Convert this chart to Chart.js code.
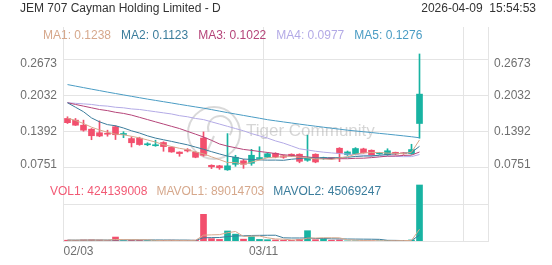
<!DOCTYPE html>
<html><head><meta charset="utf-8">
<script src="https://cdn.jsdelivr.net/npm/chart.js@4.4.1/dist/chart.umd.min.js"></script>
<style>html,body{margin:0;padding:0;background:#fff;}canvas{display:block;}</style>
</head><body>
<canvas id="c" width="552" height="265"></canvas>
<script>
// ---------- data ----------
const title = 'JEM 707 Cayman Holding Limited - D';
const stamp = '2026-04-09  15:54:53';
const xTickIndex = [0, 25, 50];
const xTickLabels = ['02/03', '03/11', ''];
const priceTickLabels = ['0.2673', '0.2032', '0.1392', '0.0751'];
const volTickLabels = ['272655017'];
const volUnitLabel = 'Mshares';

const openP  = [.1620,.1590,.1500,.1429,.1366,.1357,.1473,.1334,.1262,.1268,.1151,.1134,.1191,.1107,.1021,.1062,.1017,.1271,.0785,.0776,.0704,.0803,.0865,.0821,.0905,.0928,.0999,.0955,.0982,.0982,.0874,.0982,.0905,.0910,.1089,.0973,.0982,.1077,.1053,.0990,.0973,.1017,.1000,.0994,.1530];
const highP  = [.1650,.1620,.1590,.1441,.1577,.1411,.1491,.1384,.1294,.1286,.1187,.1232,.1205,.1116,.1026,.1083,.1026,.1380,.0794,.0785,.1350,.0964,.0892,.1070,.1116,.1010,.1010,.0970,.0990,.0990,.1321,.0990,.0930,.0920,.1100,.1040,.1100,.1090,.1060,.1010,.1080,.1020,.1010,.1160,.2770];
const lowP   = [.1530,.1495,.1393,.1241,.1294,.1303,.1244,.1277,.1112,.1142,.1134,.1124,.1035,.1017,.0946,.1023,.0919,.0946,.0726,.0713,.0695,.0767,.0731,.0785,.0892,.0920,.0920,.0910,.0940,.0830,.0856,.0830,.0890,.0890,.0850,.0960,.0970,.1000,.0950,.0980,.0960,.0970,.0980,.0980,.1268];
const closeP = [.1545,.1500,.1411,.1312,.1307,.1339,.1330,.1352,.1187,.1155,.1160,.1142,.1119,.1023,.0994,.1041,.0928,.0964,.0758,.0740,.0776,.0928,.0803,.0964,.0915,.0991,.0937,.0928,.0951,.0856,.0923,.0844,.0910,.0905,.0999,.1023,.1084,.1008,.0955,.0999,.1044,.0985,.0990,.1066,.2054];
const volume = [6e6,5e6,8e6,9e6,7e6,4e6,30e6,3e6,6e6,5e6,3e6,4e6,5e6,6e6,4e6,3e6,6e6,202e6,18e6,12e6,76e6,52e6,14e6,33e6,12e6,10e6,8e6,6e6,5e6,12e6,78e6,10e6,17e6,6e6,8e6,1.2e6,1.5e6,1.0e6,0.9e6,1.0e6,4.5e6,3.5e6,4.9e6,8.0e6,424139008];

const ma1 = [.1625,.1585,.1530,.1465,.1415,.1374,.1340,.1328,.1303,.1273,.1237,.1199,.1153,.1120,.1088,.1064,.1021,.0990,.0936,.0886,.0834,.0834,.0802,.0843,.0878,.0920,.0921,.0947,.0944,.0933,.0919,.0900,.0897,.0888,.0917,.0936,.0984,.1004,.1014,.1014,.1002,.0998,.0995,.1017,.1238];
const ma2 = [.1900,.1820,.1740,.1630,.1560,.1510,.1490,.1450,.1400,.1360,.1310,.1270,.1240,.1211,.1180,.1150,.1110,.1071,.1028,.0987,.0949,.0927,.0896,.0890,.0882,.0877,.0878,.0874,.0893,.0905,.0920,.0911,.0922,.0916,.0924,.0928,.0942,.0950,.0951,.0965,.0977,.0991,.0999,.1015,.1123];
const ma3 = [.1900,.1870,.1840,.1810,.1780,.1760,.1730,.1710,.1680,.1640,.1600,.1560,.1520,.1480,.1440,.1390,.1340,.1290,.1230,.1165,.1127,.1098,.1068,.1051,.1031,.1014,.0994,.0973,.0961,.0946,.0934,.0919,.0909,.0903,.0903,.0902,.0910,.0912,.0922,.0935,.0948,.0951,.0961,.0966,.1022];
const ma4 = [.1900,.1890,.1880,.1870,.1850,.1840,.1820,.1810,.1790,.1780,.1760,.1740,.1720,.1700,.1670,.1650,.1620,.1600,.1560,.1520,.1480,.1440,.1400,.1350,.1310,.1270,.1220,.1180,.1130,.1079,.1058,.1036,.1019,.1006,.0995,.0985,.0977,.0965,.0957,.0952,.0948,.0943,.0939,.0940,.0977];
const ma5 = [.2224,.2197,.2170,.2143,.2117,.2090,.2065,.2040,.2015,.1990,.1965,.1942,.1919,.1896,.1872,.1849,.1826,.1804,.1778,.1751,.1724,.1699,.1674,.1649,.1624,.1598,.1578,.1558,.1539,.1519,.1500,.1482,.1464,.1446,.1429,.1411,.1397,.1383,.1369,.1354,.1340,.1325,.1310,.1294,.1276];
const mavol1 = [6.5e6,6.5e6,6.8e6,7e6,7e6,6.6e6,11.6e6,10.6e6,10e6,9.6e6,9.4e6,4.2e6,4.6e6,4.6e6,4.4e6,4.4e6,4.8e6,44.2e6,46.6e6,48.2e6,62.8e6,72e6,34.4e6,37.4e6,37.4e6,24.2e6,15.4e6,13.8e6,8.2e6,8.2e6,21.8e6,22.2e6,24.4e6,24.6e6,23.8e6,8.4e6,6.7e6,3.5e6,2.5e6,1.1e6,1.8e6,2.2e6,3.0e6,4.4e6,89014703];
const mavol2 = [6.5e6,6.5e6,6.6e6,6.8e6,7e6,7e6,8e6,8e6,8.2e6,8.3e6,8.0e6,7.9e6,7.6e6,7.3e6,7.0e6,6.9e6,4.5e6,24.4e6,25.6e6,26.3e6,33.6e6,38.4e6,39.3e6,42e6,42.8e6,43.5e6,43.7e6,24.1e6,22.8e6,22.8e6,23e6,18.8e6,19.1e6,16.4e6,16e6,15.1e6,14.5e6,14e6,13.6e6,12.5e6,5.1e6,4.5e6,3.3e6,3.5e6,45069247];

// ---------- style ----------
const UP = '#18b3a2', DOWN = '#f24f6d';
const MA_COLORS = ['#d6a88c', '#3b7d9c', '#b54479', '#b3aae6', '#4a9cc4'];
const VOL_COLORS = ['#f25a75', '#d6a88c', '#3b7d9c'];
const GRID = '#e4e4e4';
const LABEL = '#6f6f6f';
const FONT = "'Liberation Sans', Arial, sans-serif";
const PLOT_H = 214;
const PRICE_MIN = -0.05647, PRICE_MAX = 0.32507;
const VOL_MAX = 1620.78e6;
const pricePx = PLOT_H / (PRICE_MAX - PRICE_MIN);
const volPx = PLOT_H / VOL_MAX;
const priceLabelNudge = [4.6, 0, 0, -2.9]; // px (down positive) for label placement
const unitLabelLift = 5.3;

const N = closeP.length;
const idx = Array.from({length: N}, (_, i) => i);
const candleColor = idx.map(i => closeP[i] >= openP[i] ? UP : DOWN);
const bodyData = idx.map(i => ({x: i, y: [Math.min(openP[i], closeP[i]), Math.max(openP[i], closeP[i])]}));
const wickData = idx.map(i => ({x: i, y: [lowP[i], highP[i]]}));
const volData = idx.map(i => ({x: i, y: volume[i]}));
const line = (arr, color, axis) => ({type: 'line', data: arr.map((v, i) => ({x: i, y: v})), borderColor: color,
  borderWidth: 1, pointRadius: 0, tension: 0, yAxisID: axis, xAxisID: 'x', order: 0});

function priceTicks() {
  const t = [];
  priceTickLabels.forEach((s, k) => {
    const v = parseFloat(s);
    t.push({value: v, text: '', grid: true});
    t.push({value: v - priceLabelNudge[k] / pricePx, text: s, grid: false});
  });
  return t;
}
function volTicks() {
  const t = volTickLabels.map(s => ({value: parseFloat(s), text: s, grid: true}));
  t.push({value: unitLabelLift / volPx, text: volUnitLabel, grid: false});
  return t;
}
const tickFont = {family: FONT, size: 12};
const gridFn = ctx => (ctx.tick && ctx.tick.grid) ? GRID : 'rgba(0,0,0,0)';
const yCommon = (min, max, ticksFn, showGrid, showBorder, width) => ({
  axis: 'y', min, max, bounds: 'data',
  grid: {display: showGrid, color: gridFn, drawTicks: false},
  border: {display: showBorder, color: GRID},
  ticks: {font: tickFont, color: LABEL, padding: 6, autoSkip: false, callback: (v, i, t) => t[i].text},
  afterBuildTicks: s => { s.ticks = ticksFn(); },
  afterFit: s => { s.width = width; }
});

const textPlugin = {
  id: 'texts',
  beforeDatasetsDraw(chart) {
    const c = chart.ctx;
    c.save();
    c.strokeStyle = 'rgba(170,170,170,0.45)';
    c.lineWidth = 2;
    c.beginPath(); c.arc(214, 133, 26, 0, Math.PI * 2); c.stroke();
    c.beginPath(); c.arc(220, 128, 12, Math.PI * 0.9, Math.PI * 2.2); c.stroke();
    c.beginPath(); c.moveTo(214, 136); c.lineTo(206, 154); c.stroke();
    c.font = '17px ' + FONT;
    c.fillStyle = 'rgba(165,165,165,0.45)';
    c.textBaseline = 'middle';
    c.fillText('Tiger Community', 246, 131);
    c.restore();
  },
  afterDraw(chart) {
    const c = chart.ctx;
    c.save();
    c.font = '12px ' + FONT;
    c.textBaseline = 'middle';
    c.fillStyle = '#333';
    c.textAlign = 'left';
    c.fillText(title, 20, 9);
    c.textAlign = 'right';
    c.fillText(stamp, 536, 9);
    c.textAlign = 'left';
    const maTexts = [ma1, ma2, ma3, ma4, ma5].map((a, k) => 'MA' + (k + 1) + ': ' + a[a.length - 1].toFixed(4));
    let x = 43;
    maTexts.forEach((t, k) => { c.fillStyle = MA_COLORS[k]; c.fillText(t, x, 36); x += c.measureText(t).width + 10; });
    const vTexts = ['VOL1: ' + volume[N - 1], 'MAVOL1: ' + mavol1[N - 1], 'MAVOL2: ' + mavol2[N - 1]];
    x = 50;
    vTexts.forEach((t, k) => { c.fillStyle = VOL_COLORS[k]; c.fillText(t, x, 192); x += c.measureText(t).width + 9; });
    c.restore();
  }
};

new Chart(document.getElementById('c'), {
  type: 'bar',
  data: {
    datasets: [
      line(ma1, MA_COLORS[0], 'y'), line(ma2, MA_COLORS[1], 'y'), line(ma3, MA_COLORS[2], 'y'),
      line(ma4, MA_COLORS[3], 'y'), line(ma5, MA_COLORS[4], 'y'),
      line(mavol1, VOL_COLORS[1], 'v'), line(mavol2, VOL_COLORS[2], 'v'),
      {type: 'bar', data: wickData, xAxisID: 'x', yAxisID: 'y', backgroundColor: candleColor, barThickness: 1, maxBarThickness: 1, grouped: false, borderWidth: 0, order: 3},
      {type: 'bar', data: bodyData, xAxisID: 'x', yAxisID: 'y', backgroundColor: candleColor, barThickness: 6, maxBarThickness: 6, minBarLength: 1, grouped: false, borderWidth: 0, order: 2},
      {type: 'bar', data: volData, xAxisID: 'x', yAxisID: 'v', backgroundColor: candleColor, barThickness: 6, maxBarThickness: 6, grouped: false, borderWidth: 0, order: 2}
    ]
  },
  options: {
    responsive: false, animation: false, devicePixelRatio: 1,
    layout: {padding: {top: 27, left: 0, right: 0, bottom: 0}},
    plugins: {legend: {display: false}, tooltip: {enabled: false}, title: {display: false}},
    scales: {
      x: {
        type: 'linear', min: -0.5625, max: 52.5625, offset: false, bounds: 'data',
        grid: {color: GRID, drawTicks: false, offset: false},
        border: {display: true, color: GRID},
        ticks: {font: tickFont, color: LABEL, padding: 3, autoSkip: false, maxRotation: 0, align: 'inner',
          callback: (v, i, t) => t[i].text},
        afterBuildTicks: s => { s.ticks = xTickIndex.map((v, k) => ({value: v - 0.5, text: xTickLabels[k]})); },
        afterFit: s => { s.height = 24; }
      },
      v: Object.assign(yCommon(0, VOL_MAX, volTicks, true, false, 0), {position: 'left'}),
      y: Object.assign(yCommon(PRICE_MIN, PRICE_MAX, priceTicks, true, true, 63), {position: 'left'}),
      vR: Object.assign(yCommon(0, VOL_MAX, volTicks, false, false, 0), {position: 'right'}),
      yR: Object.assign(yCommon(PRICE_MIN, PRICE_MAX, priceTicks, false, true, 64), {position: 'right'})
    }
  },
  plugins: [textPlugin]
});
</script>
</body></html>
